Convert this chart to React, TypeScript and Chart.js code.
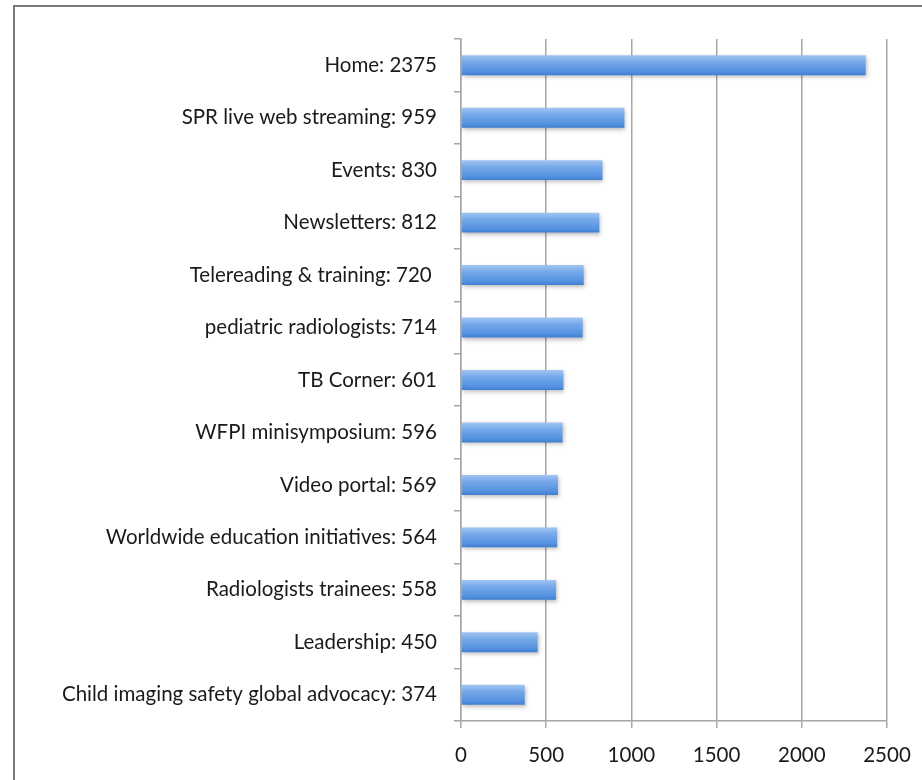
import React, { useEffect, useRef } from "react";
import { Chart, registerables } from "chart.js";

Chart.register(...registerables);

const categories = [
  "Home: 2375",
  "SPR live web streaming: 959",
  "Events: 830",
  "Newsletters: 812",
  "Telereading & training: 720 ",
  "pediatric radiologists: 714",
  "TB Corner: 601",
  "WFPI minisymposium: 596",
  "Video portal: 569",
  "Worldwide education initiatives: 564",
  "Radiologists trainees: 558",
  "Leadership: 450",
  "Child imaging safety global advocacy: 374",
];
const values = [2375, 959, 830, 812, 720, 714, 601, 596, 569, 564, 558, 450, 374];
const xTicks = [0, 500, 1000, 1500, 2000, 2500];

const FONT = "Lato, 'Open Sans', sans-serif";

export default function App() {
  const ref = useRef<HTMLCanvasElement>(null);
  useEffect(() => {
    document.body.style.margin = "0";
    const canvas = ref.current!;
    const shadowPlugin = {
      id: "barShadow",
      beforeDatasetDraw(chart: any) {
        const ctx = chart.ctx;
        ctx.save();
        ctx.shadowColor = "rgba(0,0,0,0.25)";
        ctx.shadowBlur = 4;
        ctx.shadowOffsetX = 1;
        ctx.shadowOffsetY = 2;
      },
      afterDatasetDraw(chart: any) {
        chart.ctx.restore();
      },
    };
    const chart = new Chart(canvas, {
      type: "bar",
      data: {
        labels: categories,
        datasets: [
          {
            data: values,
            backgroundColor: (c: any) => {
              const ch = c.chart;
              const ys = ch.scales && ch.scales.y;
              if (!ys || c.dataIndex === undefined) return "#5b96e0";
              const center = ys.getPixelForValue(c.dataIndex);
              if (!Number.isFinite(center)) return "#5b96e0";
              const half = 10;
              const g = ch.ctx.createLinearGradient(0, center - half, 0, center + half);
              g.addColorStop(0, "#a2c5f2");
              g.addColorStop(0.35, "#74a8e9");
              g.addColorStop(0.8, "#5592e0");
              g.addColorStop(1, "#3f7ed0");
              return g;
            },
            borderWidth: 0,
            categoryPercentage: 1,
            barPercentage: 0.38,
          },
        ],
      },
      options: {
        indexAxis: "y",
        animation: false,
        responsive: false,
        maintainAspectRatio: false,
        layout: { padding: { top: 39, right: 35, bottom: 0, left: 0 } },
        plugins: { legend: { display: false }, tooltip: { enabled: false } },
        scales: {
          x: {
            min: 0,
            max: 2500,
            afterBuildTicks: (axis: any) => {
              axis.ticks = xTicks.map((v) => ({ value: v }));
            },
            afterFit: (axis: any) => {
              axis.height = 59;
              axis.paddingRight = 0;
              axis.paddingLeft = 0;
            },
            grid: {
              color: "#a6a6a6",
              lineWidth: 1.5,
              drawTicks: true,
              tickLength: 7,
            },
            border: { color: "#a6a6a6", width: 1.5 },
            ticks: {
              color: "#1a1a1a",
              font: { family: FONT, size: 20.5 },
              padding: 15,
              maxRotation: 0,
              callback: (v: any) => String(v),
            },
          },
          y: {
            afterFit: (axis: any) => {
              axis.width = 461;
              axis.paddingTop = 0;
              axis.paddingBottom = 0;
            },
            grid: {
              drawOnChartArea: false,
              drawTicks: true,
              tickLength: 7,
              color: "#a6a6a6",
              lineWidth: 1.5,
              offset: true,
            },
            border: { color: "#a6a6a6", width: 1.5 },
            ticks: {
              color: "#1a1a1a",
              font: { family: FONT, size: 20.5 },
              padding: 17,
              autoSkip: false,
            },
          },
        },
      },
      plugins: [shadowPlugin],
    });
    return () => chart.destroy();
  }, []);
  return (
    <div style={{ position: "relative", width: 922, height: 780, background: "#fff", overflow: "hidden" }}>
      <canvas ref={ref} width={922} height={780} style={{ position: "absolute", left: 0, top: 0 }} />
      <div style={{ position: "absolute", left: 13, top: 5, width: 909, height: 2, background: "#7a7a7a" }} />
      <div style={{ position: "absolute", left: 13, top: 5, width: 2, height: 775, background: "#7a7a7a" }} />
    </div>
  );
}
